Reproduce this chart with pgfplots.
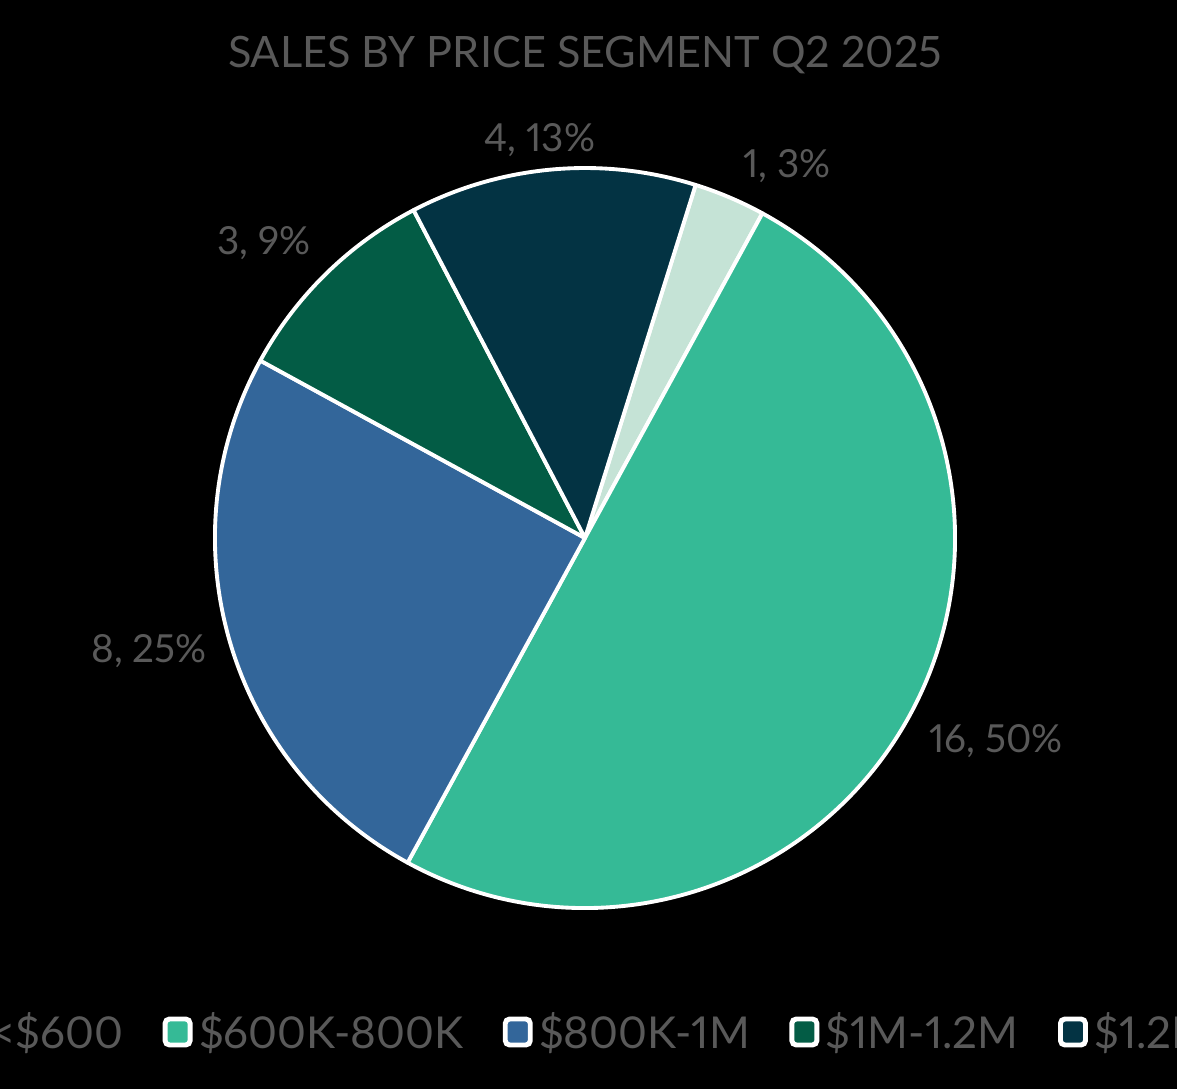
\documentclass[border=0pt]{standalone}
\usepackage{pgfplots}
\pgfplotsset{compat=1.18}
\usepackage{fontspec}
\setmainfont{Lato}[Numbers=Proportional]
\definecolor{c1}{HTML}{C5E3D6}
\definecolor{c2}{HTML}{35BA96}
\definecolor{c3}{HTML}{33669A}
\definecolor{c4}{HTML}{035C45}
\definecolor{c5}{HTML}{033343}
\definecolor{txt}{HTML}{595959}
\begin{document}
\begin{tikzpicture}
\useasboundingbox (0,0) rectangle (23.54,21.78);
\clip (0,0) rectangle (23.54,21.78);
\fill[black] (0,0) rectangle (23.54,21.78);
\begin{axis}[
  at={(0,0)}, anchor=south west,
  x=1cm, y=1cm, xmin=0, xmax=23.54, ymin=0, ymax=21.78,
  hide axis, clip=false,
  legend columns=5,
  legend image code/.code={\draw[#1, draw=white, line width=2.8pt, rounded corners=2.5pt] (0.02cm,-0.26cm) rectangle (0.52cm,0.26cm);},
  legend style={at={(axis cs:-0.93,1.14)}, anchor=west, draw=none, fill=none,
    inner sep=0pt, text=txt, font=\fontsize{25}{30}\selectfont,
    nodes={inner xsep=0pt, inner ysep=2pt},
    /tikz/every odd column/.append style={column sep=0.13cm},
    /tikz/every even column/.append style={column sep=0.79cm}},
]
% values: 1, 16, 8, 3, 4 (total 32); 11.25 degrees per sale
\filldraw[fill=c1, draw=white, line width=2.2pt, line join=round] (axis cs:11.70,11.02) -- ++(72.6:7.4) arc[start angle=72.6, delta angle=-1*11.25, radius=7.4] -- cycle;
\filldraw[fill=c2, draw=white, line width=2.2pt, line join=round] (axis cs:11.70,11.02) -- ++(61.35:7.4) arc[start angle=61.35, delta angle=-16*11.25, radius=7.4] -- cycle;
\filldraw[fill=c3, draw=white, line width=2.2pt, line join=round] (axis cs:11.70,11.02) -- ++(-118.65:7.4) arc[start angle=-118.65, delta angle=-8*11.25, radius=7.4] -- cycle;
\filldraw[fill=c4, draw=white, line width=2.2pt, line join=round] (axis cs:11.70,11.02) -- ++(-208.65:7.4) arc[start angle=-208.65, delta angle=-3*11.25, radius=7.4] -- cycle;
\filldraw[fill=c5, draw=white, line width=2.2pt, line join=round] (axis cs:11.70,11.02) -- ++(-242.4:7.4) arc[start angle=-242.4, delta angle=-4*11.25, radius=7.4] -- cycle;
\addlegendimage{fill=c1}\addlegendentry{<\$600}
\addlegendimage{fill=c2}\addlegendentry{\$600K-800K}
\addlegendimage{fill=c3}\addlegendentry{\$800K-1M}
\addlegendimage{fill=c4}\addlegendentry{\$1M-1.2M}
\addlegendimage{fill=c5}\addlegendentry{\$1.2M+}
\node[text=txt, font=\fontsize{24.6}{30}\selectfont, anchor=base] at (axis cs:11.70,20.42) {SALES BY PRICE SEGMENT Q2 2025};
\node[text=txt, font=\fontsize{22}{26}\selectfont, anchor=base] at (axis cs:10.80,18.74) {4, 13\%};
\node[text=txt, font=\fontsize{22}{26}\selectfont, anchor=base] at (axis cs:15.74,18.22) {1, 3\%};
\node[text=txt, font=\fontsize{22}{26}\selectfont, anchor=base] at (axis cs:5.28,16.68) {3, 9\%};
\node[text=txt, font=\fontsize{22}{26}\selectfont, anchor=base] at (axis cs:2.98,8.52) {8, 25\%};
\node[text=txt, font=\fontsize{22}{26}\selectfont, anchor=base] at (axis cs:19.92,6.72) {16, 50\%};
\end{axis}
\end{tikzpicture}
\end{document}
